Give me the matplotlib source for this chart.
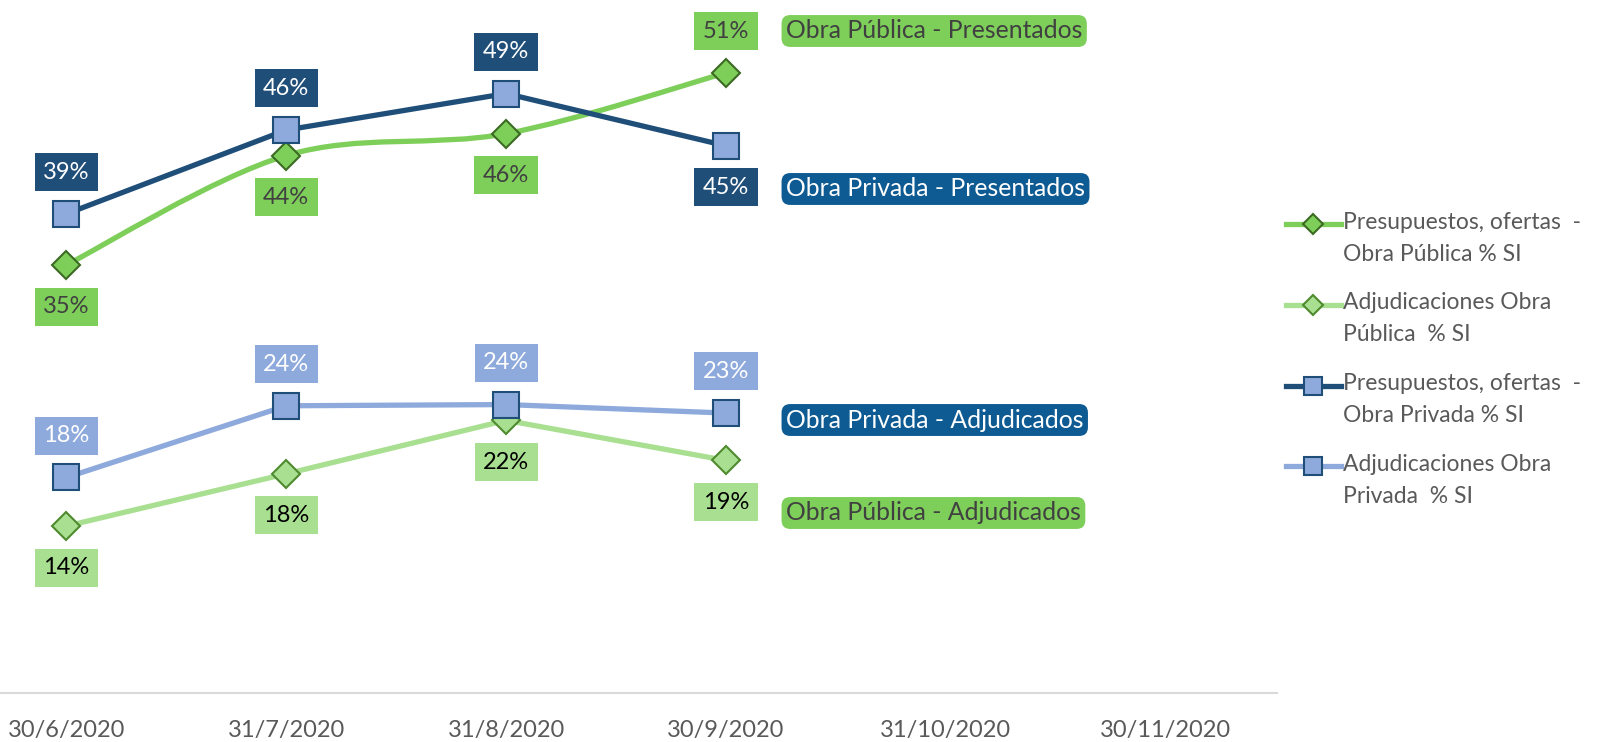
import matplotlib
matplotlib.use("Agg")
import matplotlib.pyplot as plt
from matplotlib.lines import Line2D
from matplotlib.legend_handler import HandlerLine2D
from matplotlib.path import Path
from matplotlib.patches import PathPatch
import numpy as np

plt.rcParams['font.family'] = ['Lato', 'DejaVu Sans']

# datos (% SI)
fechas = ['30/6/2020', '31/7/2020', '31/8/2020', '30/9/2020', '31/10/2020', '30/11/2020']
publica_presentados = [35.2, 44.2, 46.0, 51.0]
publica_adjudicados = [13.7, 18.0, 22.4, 19.1]
privada_presentados = [39.4, 46.3, 49.3, 45.0]
privada_adjudicados = [17.7, 23.6, 23.7, 23.0]

nombres_leyenda = [
    'Presupuestos, ofertas  -\nObra Pública % SI',
    'Adjudicaciones Obra\nPública  % SI',
    'Presupuestos, ofertas  -\nObra Privada % SI',
    'Adjudicaciones Obra\nPrivada  % SI',
]
etiquetas_series = ['Obra Pública - Presentados', 'Obra Privada - Presentados',
                    'Obra Privada - Adjudicados', 'Obra Pública - Adjudicados']

VERDE = '#7ECE5A'
VERDE_CLARO = '#A9DF91'
AZUL_OSCURO = '#1F4E79'
AZUL_CLARO = '#8EA9DB'
AZUL_CAJA = '#0E5A92'
GRIS = '#595959'


def curva_suave(xs, ys):
    # suavizado tipo Excel (Catmull-Rom -> Bezier)
    pts = np.column_stack([xs, ys]).astype(float)
    n = len(pts)
    verts = [pts[0]]
    codes = [Path.MOVETO]
    for i in range(n - 1):
        p0 = pts[i - 1] if i > 0 else pts[i]
        p3 = pts[i + 2] if i + 2 < n else pts[i + 1]
        c1 = pts[i] + (pts[i + 1] - p0) / 6
        c2 = pts[i + 1] - (p3 - pts[i]) / 6
        verts += [c1, c2, pts[i + 1]]
        codes += [Path.CURVE4] * 3
    return Path(verts, codes)


class HandlerArriba(HandlerLine2D):
    # pone el simbolo de la leyenda a la altura de la primera linea del texto
    def create_artists(self, legend, orig_handle, xdescent, ydescent, width, height, fontsize, trans):
        arts = super().create_artists(legend, orig_handle, xdescent, ydescent, width, height, fontsize, trans)
        for a in arts:
            a.set_ydata(np.asarray(a.get_ydata(), dtype=float) + 10.5)
        return arts


fig = plt.figure(figsize=(16.04, 7.42), dpi=100)
ax = fig.add_axes([0, 1 - 692.5 / 742, 1277 / 1604, 692.5 / 742])

x = np.arange(len(publica_presentados))

# serie 1: suavizada
ax.add_patch(PathPatch(curva_suave(x, publica_presentados), fill=False,
                       edgecolor=VERDE, lw=3.8, capstyle='round', zorder=2))
ax.plot(x, publica_presentados, ls='none', marker='D', ms=14, mfc=VERDE,
        mec='#3B6A22', mew=1.5, zorder=3)

ax.plot(x, publica_adjudicados, color=VERDE_CLARO, lw=3.8, marker='D', ms=14,
        mfc=VERDE_CLARO, mec='#4E8A2E', mew=1.5, zorder=4)
ax.plot(x, privada_presentados, color=AZUL_OSCURO, lw=3.8, marker='s', ms=19,
        mfc=AZUL_CLARO, mec=AZUL_OSCURO, mew=1.5, zorder=5)
ax.plot(x, privada_adjudicados, color=AZUL_CLARO, lw=3.8, marker='s', ms=19,
        mfc=AZUL_CLARO, mec=AZUL_OSCURO, mew=1.5, zorder=6)


def etiquetas(vals, arriba, fondo, color_txt):
    for i, v in enumerate(vals):
        dy = 30 if arriba[i] else -30
        ax.annotate(f'{round(v):.0f}%', (i, v), xytext=(0, dy), textcoords='offset points',
                    ha='center', va='center', fontsize=17, color=color_txt, zorder=10,
                    bbox=dict(boxstyle='square,pad=0.36', fc=fondo, ec='none'))


etiquetas(publica_presentados, [False, False, False, True], VERDE, '#404040')
etiquetas(publica_adjudicados, [False] * 4, VERDE_CLARO, '#000000')
etiquetas(privada_presentados, [True, True, True, False], AZUL_OSCURO, 'white')
etiquetas(privada_adjudicados, [True] * 4, AZUL_CLARO, 'white')

ax.set_xlim(-0.3025, 5.507)
ax.set_ylim(0, 57)
ax.set_xticks(range(len(fechas)))
ax.set_xticklabels(fechas, fontsize=17, color=GRIS)
ax.tick_params(axis='x', length=0, pad=20)
ax.set_yticks([])
for s in ['left', 'right', 'top']:
    ax.spines[s].set_visible(False)
ax.spines['bottom'].set_color('#D9D9D9')
ax.spines['bottom'].set_linewidth(1.5)

# cajas con el nombre de cada serie
cajas = [(31, VERDE, '#404040'), (189, AZUL_CAJA, 'white'),
         (420, AZUL_CAJA, 'white'), (513, VERDE, '#404040')]
for texto, (ypx, fondo, col) in zip(etiquetas_series, cajas):
    fig.text(786 / 1604, 1 - ypx / 742, texto, ha='left', va='center', fontsize=17.8,
             color=col, bbox=dict(boxstyle='round,pad=0.18,rounding_size=0.35', fc=fondo, ec='none'))

handles = [
    Line2D([], [], color=VERDE, lw=3.8, marker='D', ms=10, mfc=VERDE, mec='#3B6A22', mew=1.5),
    Line2D([], [], color=VERDE_CLARO, lw=3.8, marker='D', ms=10, mfc=VERDE_CLARO, mec='#4E8A2E', mew=1.5),
    Line2D([], [], color=AZUL_OSCURO, lw=3.8, marker='s', ms=13, mfc=AZUL_CLARO, mec=AZUL_OSCURO, mew=1.5),
    Line2D([], [], color=AZUL_CLARO, lw=3.8, marker='s', ms=13, mfc=AZUL_CLARO, mec=AZUL_OSCURO, mew=1.5),
]
leg = fig.legend(handles, nombres_leyenda, loc='upper left', bbox_to_anchor=(1265 / 1604, 1 - 191 / 742),
                 frameon=False, fontsize=16.5, handlelength=2.4, handletextpad=0.1,
                 labelspacing=1.22, labelcolor=GRIS,
                 handler_map={Line2D: HandlerArriba()})
for t in leg.get_texts():
    t.set_linespacing(1.64)

fig.savefig('out.png', dpi=100)
